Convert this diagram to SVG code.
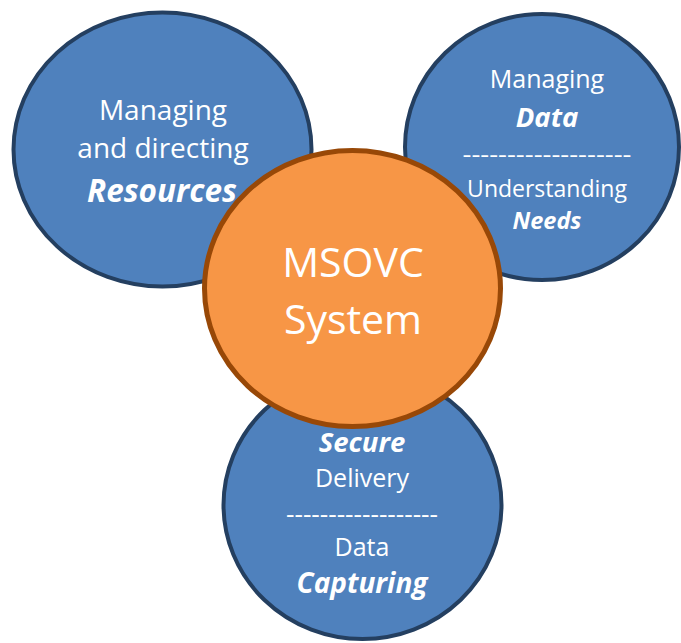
<svg xmlns="http://www.w3.org/2000/svg" width="681" height="643" viewBox="0 0 681 643">
<style>
.blue{fill:#4f81bd;stroke:#243f60;stroke-width:4}
.orange{fill:#f79646;stroke:#984807;stroke-width:5}
text{font-family:"Open Sans","Noto Sans",sans-serif;fill:#ffffff;text-anchor:middle}
.bi{font-weight:bold;font-style:italic}
</style>
<rect width="681" height="643" fill="#ffffff"/>
<g id="connectors"></g>
<g id="resources">
<ellipse class="blue" cx="162.5" cy="149.5" rx="149" ry="137"/>
<text x="163" y="120" font-size="28">Managing</text>
<text x="163" y="158" font-size="28">and directing</text>
<text x="162" y="202" font-size="31.5" class="bi">Resources</text>
</g>
<g id="data">
<ellipse class="blue" cx="542" cy="147" rx="137" ry="133"/>
<text x="547" y="88" font-size="25">Managing</text>
<text x="547" y="127" font-size="27.5" class="bi">Data</text>
<text x="547" y="163" font-size="23" textLength="169" lengthAdjust="spacingAndGlyphs">-------------------</text>
<text x="547" y="197" font-size="23">Understanding</text>
<text x="547" y="229" font-size="23.5" class="bi">Needs</text>
</g>
<g id="delivery">
<ellipse class="blue" cx="362.5" cy="505" rx="139" ry="134"/>
<text x="362" y="452" font-size="27.5" class="bi">Secure</text>
<text x="362" y="487" font-size="25">Delivery</text>
<text x="362" y="523" font-size="25" textLength="152" lengthAdjust="spacingAndGlyphs">------------------</text>
<text x="362" y="556" font-size="25">Data</text>
<text x="362" y="593" font-size="28" class="bi">Capturing</text>
</g>
<g id="msovc">
<ellipse class="orange" cx="352.5" cy="288.5" rx="148" ry="138"/>
<text x="353" y="277" font-size="41">MSOVC</text>
<text x="353" y="334" font-size="41">System</text>
</g>
</svg>
